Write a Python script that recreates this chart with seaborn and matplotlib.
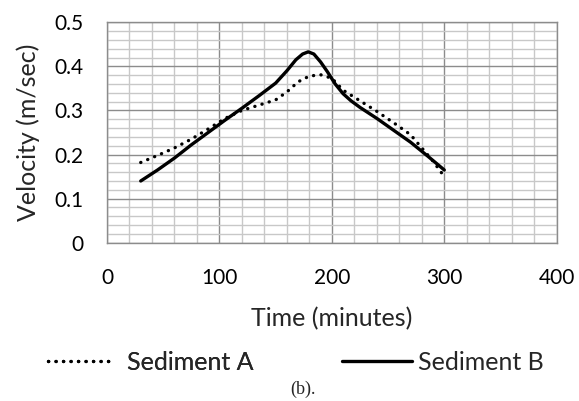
import matplotlib
matplotlib.use("Agg")
import matplotlib.pyplot as plt
from matplotlib.ticker import MultipleLocator
from matplotlib.lines import Line2D
import seaborn as sns
import pandas as pd

time_a = [30, 45, 60, 75, 90, 105, 120, 135, 150, 160, 170, 180, 190, 200, 210, 225, 240, 255, 270, 280, 290, 300]
sed_a = [0.182, 0.198, 0.215, 0.235, 0.258, 0.282, 0.300, 0.312, 0.324, 0.342, 0.365, 0.378, 0.381, 0.373,
         0.346, 0.322, 0.298, 0.272, 0.245, 0.215, 0.185, 0.150]
time_b = [30, 45, 60, 75, 90, 105, 120, 135, 150, 160, 168, 174, 179, 184, 190, 196, 203, 210, 217,
          225, 240, 255, 270, 285, 300]
sed_b = [0.140, 0.165, 0.192, 0.222, 0.250, 0.278, 0.305, 0.333, 0.362, 0.390, 0.415, 0.428, 0.433, 0.428,
         0.410, 0.388, 0.360, 0.338, 0.322, 0.307, 0.282, 0.255, 0.228, 0.197, 0.165]
series_names = ["Sediment A", "Sediment B"]
x_ticks = [0, 100, 200, 300, 400]
y_ticks = [0, 0.1, 0.2, 0.3, 0.4, 0.5]
y_tick_labels = ["0", "0.1", "0.2", "0.3", "0.4", "0.5"]

df = pd.concat([
    pd.DataFrame({"Time": time_a, "Velocity": sed_a, "Series": series_names[0]}),
    pd.DataFrame({"Time": time_b, "Velocity": sed_b, "Series": series_names[1]}),
], ignore_index=True)

sns.set_style("white")
plt.rcParams["font.family"] = ["Lato", "DejaVu Sans"]

W, H = 579, 401
fig = plt.figure(figsize=(W / 100, H / 100), dpi=100)
ax = fig.add_axes([107 / W, 1 - 242.7 / H, (556.7 - 107) / W, (242.7 - 22.3) / H])

dot_style = (0.05, 2.2)
sns.lineplot(data=df, x="Time", y="Velocity", hue="Series", style="Series",
             palette={"Sediment A": "black", "Sediment B": "black"},
             dashes={"Sediment A": dot_style, "Sediment B": ""},
             linewidth=2.4, ax=ax, legend=False, sort=False, estimator=None)
for ln in ax.lines:
    ln.set_dash_capstyle("round")
    ln.set_solid_capstyle("round")
    ln.set_solid_joinstyle("round")
    ln.set_dash_joinstyle("round")
    ln.set_zorder(5)

ax.set_xlim(0, 400)
ax.set_ylim(0, 0.5)
ax.set_xticks(x_ticks)
ax.set_xticklabels([str(t) for t in x_ticks])
ax.set_yticks(y_ticks)
ax.set_yticklabels(y_tick_labels)
ax.xaxis.set_minor_locator(MultipleLocator(20))
ax.yaxis.set_minor_locator(MultipleLocator(0.02))
ax.grid(which="minor", color="#c8c8c8", linewidth=1.0)
ax.grid(which="major", color="#8c8c8c", linewidth=1.0)
ax.set_axisbelow(True)
ax.tick_params(axis="x", which="major", pad=12)
ax.tick_params(axis="y", which="major", pad=11)
ax.tick_params(which="major", direction="out", length=6, width=1, color="#8c8c8c",
               labelsize=15, labelcolor="black")
ax.tick_params(which="minor", length=0)
for s in ax.spines.values():
    s.set_color("#8c8c8c")
    s.set_linewidth(1)

ax.set_xlabel("Time (minutes)", fontsize=18, labelpad=14)
ax.set_ylabel("Velocity (m/sec)", fontsize=18, labelpad=10)

h_a = Line2D([], [], color="black", lw=2.4, linestyle=(0, dot_style), dash_capstyle="round")
h_b = Line2D([], [], color="black", lw=2.4)
leg_a = fig.legend([h_a], [series_names[0]], loc="center left", bbox_to_anchor=(48 / W, 1 - 362 / H),
                   frameon=False, fontsize=18, handlelength=2.65, handletextpad=0.5, borderpad=0,
                   borderaxespad=0)
fig.add_artist(leg_a)
leg_b = fig.legend([h_b], [series_names[1]], loc="center left", bbox_to_anchor=(342 / W, 1 - 362 / H),
                   frameon=False, fontsize=18, handlelength=2.8, handletextpad=0.22, borderpad=0,
                   borderaxespad=0)

fig.text(303 / W, 1 - 389 / H, "(b).", ha="center", va="center", fontsize=13,
         family=["Liberation Serif", "DejaVu Serif"])

fig.savefig("out.png", dpi=100)
